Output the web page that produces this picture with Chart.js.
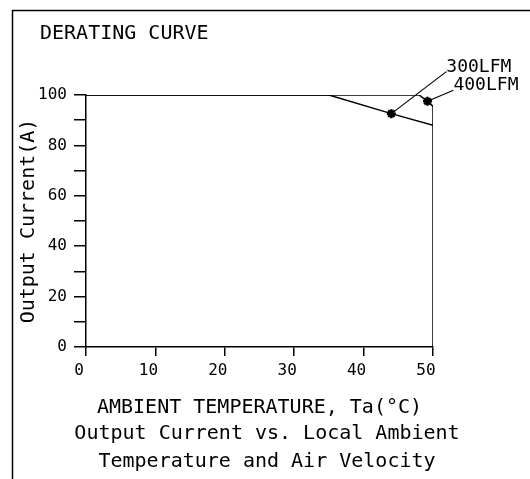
<!DOCTYPE html>
<html>
<head>
<meta charset="utf-8">
<title>Derating curve</title>
<script src="https://cdn.jsdelivr.net/npm/chart.js@4.4.1/dist/chart.umd.min.js"></script>
<style>
  html, body { margin: 0; padding: 0; background: #fff; }
  canvas { display: block; }
</style>
</head>
<body>
<canvas id="derating" width="530" height="479"></canvas>
<script>
const chartTitle = 'DERATING CURVE'
const xTitle = 'AMBIENT TEMPERATURE, Ta(°C)'
const yTitle = 'Output Current(A)'
const caption = ['Output Current vs. Local Ambient', 'Temperature and Air Velocity']

const seriesNames = ['300LFM', '400LFM']
const temp300 = [0, 35, 44, 50]
const current300 = [100, 100, 92.6, 88]
const temp400 = [0, 48, 49.2, 50, 50]
const current400 = [100, 100, 97.5, 95.5, 0]
const markerIndex = [2, 2]

const xTicks = [0, 10, 20, 30, 40, 50]
const yTicks = [0, 20, 40, 60, 80, 100]

const mono = "'DejaVu Sans Mono', monospace"
Chart.defaults.font.family = mono
Chart.defaults.color = '#000'

// frame round the sheet and the heading in the corner
const frame = {
    id: 'frame',
    beforeDraw(chart){
        const ctx = chart.ctx
        ctx.save()
        ctx.strokeStyle = '#000'
        ctx.lineWidth = 1.5
        ctx.beginPath()
        ctx.moveTo(12.5, chart.height)
        ctx.lineTo(12.5, 10.5)
        ctx.lineTo(chart.width, 10.5)
        ctx.stroke()
        ctx.font = `20px ${mono}`
        ctx.fillStyle = '#000'
        ctx.textAlign = 'left'
        ctx.textBaseline = 'alphabetic'
        ctx.fillText(chartTitle, 40, 39)
        ctx.restore()
    }
}

// leader lines from each marker to its series name
const callouts = {
    id: 'callouts',
    afterDatasetsDraw(chart){
        const ctx = chart.ctx
        const leaders = [[55, -42], [26, -11]]
        ctx.save()
        ctx.strokeStyle = '#000'
        ctx.fillStyle = '#000'
        ctx.lineWidth = 1.2
        ctx.font = `18px ${mono}`
        ctx.textAlign = 'left'
        ctx.textBaseline = 'alphabetic'
        seriesNames.forEach((name, i) => {
            const p = chart.getDatasetMeta(i).data[markerIndex[i]]
            const [dx, dy] = leaders[i]
            ctx.beginPath()
            ctx.moveTo(p.x, p.y)
            ctx.lineTo(p.x + dx, p.y + dy)
            ctx.stroke()
            ctx.fillText(name, p.x + dx, p.y + dy)
        })
        ctx.restore()
    }
}

function toPoints(xs, ys){
    return xs.map((x, i) => ({x, y: ys[i]}))
}

function createChart(){
    const ctx = document.getElementById('derating').getContext('2d')
    const datasets = [
        {label: seriesNames[0], data: toPoints(temp300, current300)},
        {label: seriesNames[1], data: toPoints(temp400, current400)},
    ]
    return new Chart(ctx, {
        type: 'line',
        data: {
            datasets: datasets.map((ds, i) => ({
                ...ds,
                borderColor: '#000',
                borderWidth: 1.5,
                fill: false,
                tension: 0,
                pointStyle: 'star',
                pointBorderColor: '#000',
                pointBackgroundColor: '#000',
                pointBorderWidth: 2.5,
                pointRadius: c => c.dataIndex === markerIndex[i] ? 4.5 : 0,
                pointHoverRadius: 0
            }))
        },
        options: {
            responsive: false,
            animation: false,
            layout: {padding: {left: 12, top: 95, right: 8, bottom: 0}},
            plugins: {
                legend: {display: false},
                tooltip: {enabled: false},
                title: {display: false},
                subtitle: {
                    display: true,
                    position: 'bottom',
                    text: caption,
                    color: '#000',
                    font: {family: mono, size: 20, lineHeight: 1.4},
                    padding: {top: 0, bottom: 3}
                }
            },
            scales: {
                x: {
                    type: 'linear',
                    min: 0, max: 50,
                    afterFit: s => { s.height = 73 },
                    afterBuildTicks: s => { s.ticks = xTicks.map(v => ({value: v})) },
                    ticks: {padding: 5, labelOffset: -7, font: {size: 16}},
                    grid: {drawOnChartArea: false, tickLength: 9, color: '#000', lineWidth: 1.5},
                    border: {color: '#000', width: 1.5},
                    title: {display: true, text: xTitle, font: {size: 20}, padding: {top: 0, bottom: 0}}
                },
                y: {
                    min: 0, max: 100,
                    afterFit: s => { s.width = 74 },
                    ticks: {
                        stepSize: 10,
                        padding: 7,
                        font: {size: 16},
                        callback: v => yTicks.includes(v) ? v : ''
                    },
                    grid: {drawOnChartArea: false, tickLength: 12, color: '#000', lineWidth: 1.5},
                    border: {color: '#000', width: 1.5},
                    title: {display: true, text: yTitle, font: {size: 20}, padding: {top: 5, bottom: 0}}
                },
                margin: {
                    position: 'right',
                    afterFit: s => { s.width = 89 },
                    ticks: {display: false},
                    grid: {display: false},
                    border: {display: false}
                }
            }
        },
        plugins: [frame, callouts]
    })
}

createChart()
</script>
</body>
</html>
